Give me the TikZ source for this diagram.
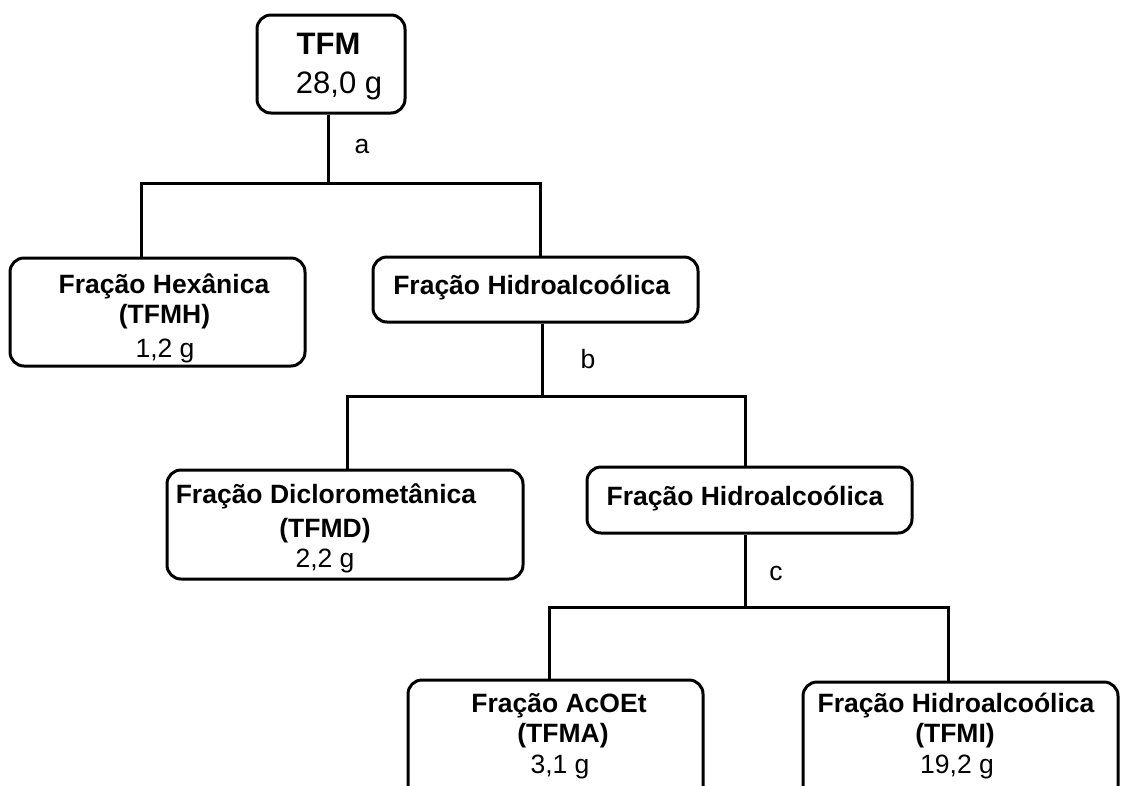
\documentclass[tikz,border=0pt]{standalone}
\usepackage{fontspec}
\setmainfont{Liberation Sans}
\begin{document}
\begin{tikzpicture}[x=1pt,y=-1pt,
  box/.style={draw,line width=3pt,rounded corners=14pt,inner sep=0pt,
    minimum width=#1},
  conn/.style={line width=3pt},
  txt/.style={anchor=base,inner sep=0pt,font=\fontsize{26.5pt}{31pt}\selectfont},
  btxt/.style={txt,font=\fontsize{26.5pt}{31pt}\selectfont\bfseries},
  bigtxt/.style={anchor=base,inner sep=0pt,font=\fontsize{31pt}{36pt}\selectfont}]
\useasboundingbox (0,0) rectangle (1121,785);
\clip (0,0) rectangle (1121,785);

% boxes
\node[box=148pt,minimum height=98pt]  (tfm)  at (331,64)    {};
\node[box=295pt,minimum height=108pt] (hex)  at (157.5,312) {};
\node[box=325pt,minimum height=65pt]  (h1)   at (535.5,289.5) {};
\node[box=356pt,minimum height=109pt] (dcm)  at (345,524.5) {};
\node[box=325pt,minimum height=66pt]  (h2)   at (749.5,500) {};
\node[box=295pt,minimum height=120pt] (tfma) at (555.5,740) {};
\node[box=315pt,minimum height=120pt] (tfmi) at (960.5,742) {};

% texts
\node[bigtxt,font=\fontsize{31pt}{36pt}\selectfont\bfseries] (t1) at (328.5,54) {TFM};
\node[bigtxt] (t2) at (339,93) {28,0 g};

\node[btxt] (hex1) at (164,293) {Fração Hexânica};
\node[btxt] (hex2) at (164.5,323) {(TFMH)};
\node[txt]  (hex3) at (165,357) {1,2 g};

\node[btxt] (h1t) at (531.7,294) {Fração Hidroalcoólica};

\node[btxt] (dcm1) at (326,503) {Fração Diclorometânica};
\node[btxt] (dcm2) at (325,537) {(TFMD)};
\node[txt]  (dcm3) at (325,567) {2,2 g};

\node[btxt] (h2t) at (745,505) {Fração Hidroalcoólica};

\node[btxt] (a1) at (559,712) {Fração AcOEt};
\node[btxt] (a2) at (563,742) {(TFMA)};
\node[txt]  (a3) at (560,773) {3,1 g};

\node[btxt] (i1) at (956,712) {Fração Hidroalcoólica};
\node[btxt] (i2) at (955,742) {(TFMI)};
\node[txt]  (i3) at (957,773) {19,2 g};

% step labels
\node[txt] (la) at (362,153) {a};
\node[txt] (lb) at (588,368) {b};
\node[txt] (lc) at (776,580) {c};

% split a
\coordinate (a0) at (328,183);
\coordinate (aL) at (141,183);
\coordinate (aR) at (540,183);
\draw[conn] (tfm.south -| a0) -- (a0);
\draw[conn] (hex.north -| aL) -- (aL) -- (aR) -- (h1.north -| aR);

% split b
\coordinate (b0) at (542,396);
\coordinate (bL) at (347,396);
\coordinate (bR) at (745,396);
\draw[conn] (h1.south -| b0) -- (b0);
\draw[conn] (dcm.north -| bL) -- (bL) -- (bR) -- (h2.north -| bR);

% split c
\coordinate (c0) at (745,607);
\coordinate (cL) at (549,607);
\coordinate (cR) at (948,607);
\draw[conn] (h2.south -| c0) -- (c0);
\draw[conn] (tfma.north -| cL) -- (cL) -- (cR) -- (tfmi.north -| cR);
\end{tikzpicture}
\end{document}
